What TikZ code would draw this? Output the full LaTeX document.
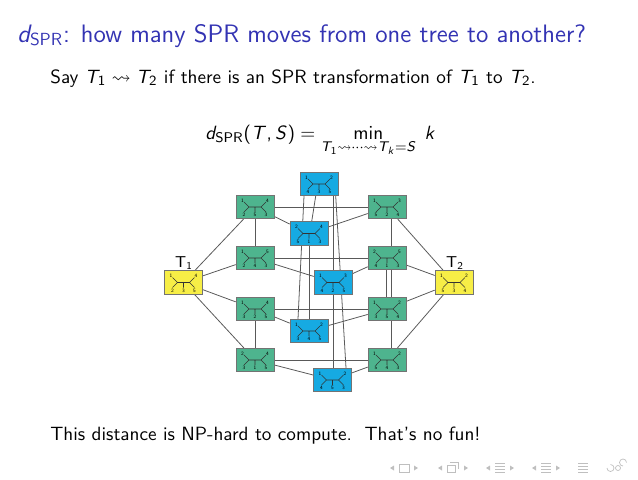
\documentclass[tikz,border=0pt]{standalone}
\usepackage{amsmath}
\usepackage{amssymb}
\usepackage{xcolor}
\usepackage{tikz}
\usetikzlibrary{backgrounds}

\renewcommand{\familydefault}{\sfdefault}
\DeclareSymbolFont{operators}{OT1}{cmss}{m}{n}
\DeclareSymbolFont{letters}{OT1}{cmss}{m}{sl}
\AtBeginDocument{\mathcode`\,="602C}

\definecolor{framblue}{RGB}{51,51,179}
\definecolor{treegreen}{RGB}{78,180,142}
\definecolor{treecyan}{RGB}{22,170,226}
\definecolor{treeyellow}{RGB}{247,238,70}

% small unrooted tree with five labelled leaves, drawn inside a box node
\newcommand{\leaftree}[6]{%
  \begin{scope}[shift={(#1.center)}]
    \draw[treeline] (-11,-5) -- (-6,0) -- (-11,5) (-6,0) -- (6,0) (11,-5) -- (6,0) -- (11,5) (0,0) -- (0,5);
    \node[leaflabel] at (-12.5,-6.5) {#2};
    \node[leaflabel] at (12.5,-6.5) {#3};
    \node[leaflabel] at (-11,8) {#4};
    \node[leaflabel] at (0,8) {#5};
    \node[leaflabel] at (11,8) {#6};
  \end{scope}}

\begin{document}
\begin{tikzpicture}[x=0.2006mm, y=-0.2006mm,
    treebox/.style={rectangle, draw=black!55, line width=0.4pt, minimum width=7.6mm, minimum height=4.7mm, inner sep=0pt},
    greenbox/.style={treebox, fill=treegreen},
    cyanbox/.style={treebox, fill=treecyan},
    yellowbox/.style={treebox, fill=treeyellow},
    treeline/.style={line width=0.3pt, black!80},
    leaflabel/.style={inner sep=0pt, font=\fontsize{2.9}{3.2}\selectfont},
    bodytext/.style={anchor=base west, inner sep=0pt, font=\fontsize{10.95}{13}\selectfont},
    link/.style={draw=black!65, line width=0.45pt},
    navsym/.style={black!25, line width=0.4pt}
]
\useasboundingbox (0,0) rectangle (638,479);

% slide text
\node[anchor=base west, text=framblue, font=\Large, inner sep=0pt] (title) at (17,42) {$d_{\mathrm{SPR}}$: how many SPR moves from one tree to another?};
\node[bodytext] (say) at (50,83) {Say $T_1 \rightsquigarrow T_2$ if there is an SPR transformation of $T_1$ to $T_2$.};
\node[bodytext] (dist) at (205,139) {$\displaystyle d_{\mathrm{SPR}}(T,S) = \min_{T_1 \rightsquigarrow \cdots \rightsquigarrow T_k = S} \; k$};
\node[bodytext] (nofun) at (50,440) {This distance is NP-hard to compute.\ \ That's no fun!};

% the trees
\node[yellowbox] (t1) at (183.5,282.5) {};
\node[yellowbox] (t2) at (454,282.5) {};
\node[greenbox] (l1) at (255,207) {};
\node[greenbox] (l2) at (255,258) {};
\node[greenbox] (l3) at (255,309) {};
\node[greenbox] (l4) at (255,360) {};
\node[greenbox] (r1) at (387,207) {};
\node[greenbox] (r2) at (387,258) {};
\node[greenbox] (r3) at (387,309) {};
\node[greenbox] (r4) at (387,360) {};
\node[cyanbox] (b1) at (319,184) {};
\node[cyanbox] (b2) at (309,233.5) {};
\node[cyanbox] (b3) at (333,282.5) {};
\node[cyanbox] (b4) at (309,331) {};
\node[cyanbox] (b5) at (332.5,380) {};

\node[font=\small, inner sep=0pt] (t1name) at (184,263) {T$_1$};
\node[font=\small, inner sep=0pt] (t2name) at (455,263) {T$_2$};

\leaftree{t1}{1}{4}{2}{3}{5}
\leaftree{t2}{1}{2}{5}{3}{4}
\leaftree{l1}{1}{4}{2}{5}{3}
\leaftree{l2}{1}{5}{2}{4}{3}
\leaftree{l3}{1}{4}{3}{2}{5}
\leaftree{l4}{2}{4}{3}{1}{5}
\leaftree{r1}{1}{3}{5}{2}{4}
\leaftree{r2}{2}{5}{4}{1}{3}
\leaftree{r3}{1}{2}{3}{5}{4}
\leaftree{r4}{1}{2}{5}{4}{3}
\leaftree{b1}{1}{2}{4}{3}{5}
\leaftree{b2}{2}{4}{5}{1}{3}
\leaftree{b3}{1}{3}{4}{2}{5}
\leaftree{b4}{1}{2}{3}{4}{5}
\leaftree{b5}{1}{2}{4}{5}{3}

% SPR moves between trees
\begin{scope}[on background layer]
\foreach \n in {l1,l2,l3,l4} \draw[link] (t1) -- (\n);
\foreach \n in {r1,r2,r3,r4} \draw[link] (t2) -- (\n);
\draw[link] (l1) -- (r1);
\draw[link] (l2) -- (r2);
\draw[link] (l3) -- (r3);
\draw[link] (l4) -- (r4);
\draw[link] (l1) -- (l2);
\draw[link] (l3) -- (l4);
\draw[link] (l1) -- (b2) -- (r1);
\draw[link] (l2) -- (b3) -- (r2);
\draw[link] (l3) -- (b4) -- (r3);
\draw[link] (l4) -- (b5) -- (r4);
\draw[link] ([shift={(4.7,0)}]r1.south) -- ([shift={(4.7,0)}]r4.north);
\draw[link] ([shift={(-0.7,0)}]r2.south) -- ([shift={(-0.7,0)}]r3.north);
\draw[link] ([shift={(-3.3,0)}]b1.south) -- ([shift={(2.7,0)}]b2.north);
\draw[link] ([shift={(-15,0)}]b1.south) -- ([shift={(-11,0)}]b4.north);
\draw[link] ([shift={(0.7,0)}]b2.south) -- ([shift={(0.7,0)}]b4.north);
\draw[link] ([shift={(14,0)}]b1.south) -- ([shift={(0.5,0)}]b5.north);
\draw[link] ([shift={(16.7,0)}]b1.south) -- ([shift={(13.5,0)}]b5.north);
\end{scope}

% navigation symbols
\foreach \x in {390,438,486,532} {
  \fill[navsym] (\x,468) -- (\x+4,465.5) -- (\x+4,470.5) -- cycle;
}
\draw[navsym] (399,464) rectangle (409,472);
\draw[navsym] (447,465) rectangle (455,472) (450,462.5) -- (458,462.5) -- (458,469);
\draw[navsym] (495,463) -- (505,463) (495,466) -- (505,466) (495,469) -- (505,469) (495,472) -- (505,472);
\draw[navsym] (541,463) -- (551,463) (541,466) -- (551,466) (541,469) -- (551,469) (541,472) -- (551,472);
\foreach \x in {414,464,510,556} {
  \fill[navsym] (\x+4,468) -- (\x,465.5) -- (\x,470.5) -- cycle;
}
\draw[navsym] (578,463) -- (588,463) (578,466) -- (588,466) (578,469) -- (588,469) (578,472) -- (588,472);
\draw[navsym] (607,468) arc[start angle=180, end angle=-90, radius=3.5] (618,468) circle[radius=2.5] (623,466) arc[start angle=90, end angle=360, radius=3.5];
\end{tikzpicture}
\end{document}
